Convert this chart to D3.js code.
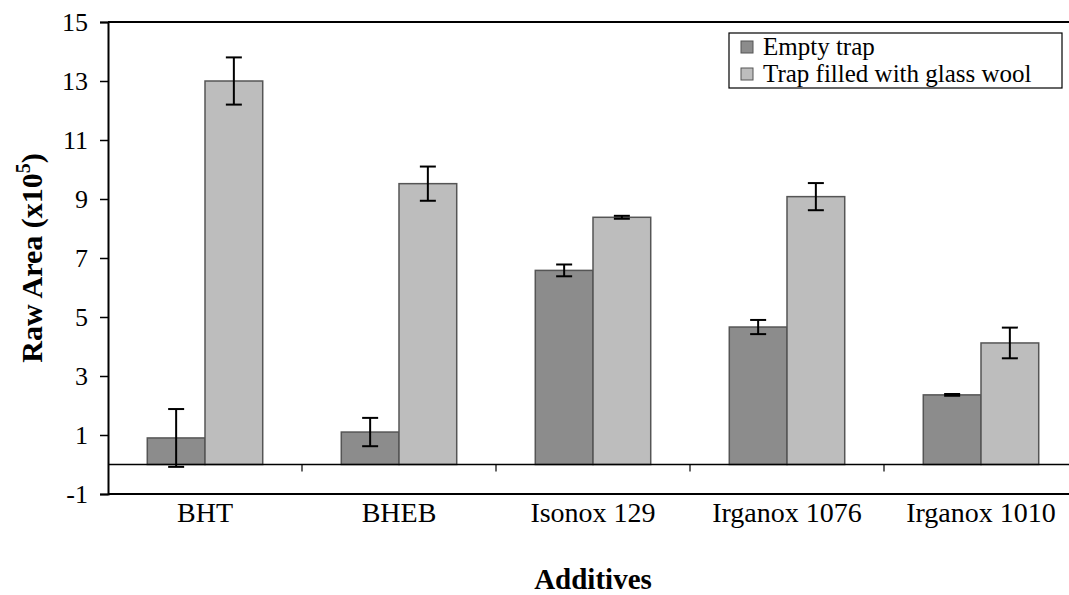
<!DOCTYPE html>
<html>
<head>
<meta charset="utf-8">
<script src="https://cdn.jsdelivr.net/npm/d3@7"></script>
<style>
  body { margin: 0; background: #fff; }
</style>
</head>
<body>
<svg id="chart"></svg>
<script>
  // data
  const categories = ['BHT', 'BHEB', 'Isonox 129', 'Irganox 1076', 'Irganox 1010'];
  const seriesNames = ['Empty trap', 'Trap filled with glass wool'];
  const emptyTrap = [0.9, 1.1, 6.58, 4.66, 2.36];
  const emptyErr = [0.98, 0.48, 0.2, 0.24, 0.03];
  const glassWool = [13.0, 9.52, 8.38, 9.08, 4.12];
  const glassErr = [0.8, 0.58, 0.05, 0.46, 0.52];
  const yTicks = [-1, 1, 3, 5, 7, 9, 11, 13, 15];

  const WIDTH = 1069;
  const HEIGHT = 595;
  const FONT = '"Liberation Serif", "Times New Roman", Times, serif';
  const margin = { top: 22, left: 108, bottom: 101 };
  const plotRight = 1078; // plot runs past the window edge in the original

  const svg = d3.select('#chart').attr('width', WIDTH).attr('height', HEIGHT)
    .attr('font-family', FONT);

  const x0 = d3.scaleBand().domain(categories).range([margin.left, plotRight]).paddingInner(0.405).paddingOuter(0.2025);
  const x1 = d3.scaleBand().domain(seriesNames).range([0, x0.bandwidth()]);
  const y = d3.scaleLinear().domain([-1, 15]).range([HEIGHT - margin.bottom, margin.top]);

  const fills = ['#8c8c8c', '#bdbdbd'];
  const color = d3.scaleOrdinal().domain(seriesNames).range(fills);

  // frame top + bottom
  svg.append('line').attr('x1', margin.left).attr('x2', WIDTH).attr('y1', y(15)).attr('y2', y(15))
    .attr('stroke', '#000').attr('stroke-width', 2);
  svg.append('line').attr('x1', margin.left).attr('x2', WIDTH).attr('y1', y(-1)).attr('y2', y(-1))
    .attr('stroke', '#000').attr('stroke-width', 2);

  // y axis
  const yAxis = svg.append('g').attr('transform', `translate(${margin.left},0)`)
    .call(d3.axisLeft(y).tickValues(yTicks).tickFormat((d) => String(d)).tickSize(8).tickPadding(12));
  yAxis.attr('font-family', FONT);
  yAxis.select('.domain').attr('stroke-width', 2);
  yAxis.selectAll('.tick line').attr('stroke-width', 1.5);
  yAxis.selectAll('text').attr('font-size', 26).attr('fill', '#000');

  // bars
  const rows = categories.map((c, i) => ({
    cat: c,
    vals: [
      { name: seriesNames[0], v: emptyTrap[i], e: emptyErr[i] },
      { name: seriesNames[1], v: glassWool[i], e: glassErr[i] }
    ]
  }));

  const groups = svg.append('g').selectAll('g').data(rows).join('g')
    .attr('transform', (d) => `translate(${x0(d.cat)},0)`);

  groups.selectAll('rect').data((d) => d.vals).join('rect')
    .attr('x', (d) => x1(d.name))
    .attr('y', (d) => y(Math.max(0, d.v)))
    .attr('width', x1.bandwidth())
    .attr('height', (d) => Math.abs(y(d.v) - y(0)))
    .attr('fill', (d) => color(d.name))
    .attr('stroke', '#555')
    .attr('stroke-width', 1.5);

  // error bars
  const capW = 8;
  const err = groups.selectAll('g.err').data((d) => d.vals).join('g').attr('class', 'err')
    .attr('stroke', '#000').attr('stroke-width', 2);
  err.append('line')
    .attr('x1', (d) => x1(d.name) + x1.bandwidth() / 2)
    .attr('x2', (d) => x1(d.name) + x1.bandwidth() / 2)
    .attr('y1', (d) => y(d.v + d.e))
    .attr('y2', (d) => y(d.v - d.e));
  err.append('line')
    .attr('x1', (d) => x1(d.name) + x1.bandwidth() / 2 - capW)
    .attr('x2', (d) => x1(d.name) + x1.bandwidth() / 2 + capW)
    .attr('y1', (d) => y(d.v + d.e))
    .attr('y2', (d) => y(d.v + d.e));
  err.append('line')
    .attr('x1', (d) => x1(d.name) + x1.bandwidth() / 2 - capW)
    .attr('x2', (d) => x1(d.name) + x1.bandwidth() / 2 + capW)
    .attr('y1', (d) => y(d.v - d.e))
    .attr('y2', (d) => y(d.v - d.e));

  // zero line with category ticks
  svg.append('line').attr('x1', margin.left).attr('x2', WIDTH).attr('y1', y(0)).attr('y2', y(0))
    .attr('stroke', '#000').attr('stroke-width', 1.5);
  const step = x0.step();
  svg.append('g').selectAll('line').data(categories.slice(1)).join('line')
    .attr('x1', (d) => x0(d) - x0.paddingInner() * step / 2)
    .attr('x2', (d) => x0(d) - x0.paddingInner() * step / 2)
    .attr('y1', y(0)).attr('y2', y(0) + 7)
    .attr('stroke', '#000').attr('stroke-width', 1.2);

  // category labels
  svg.append('g').selectAll('text').data(categories).join('text')
    .attr('x', (d) => x0(d) + x0.bandwidth() / 2)
    .attr('y', y(-1) + 28)
    .attr('text-anchor', 'middle')
    .attr('font-size', 28)
    .text((d) => d);

  // axis titles
  svg.append('text')
    .attr('x', (margin.left + plotRight) / 2)
    .attr('y', 589)
    .attr('text-anchor', 'middle')
    .attr('font-size', 29)
    .attr('font-weight', 'bold')
    .text('Additives');

  const yt = svg.append('text')
    .attr('transform', `translate(42,${(y(15) + y(-1)) / 2}) rotate(-90)`)
    .attr('text-anchor', 'middle')
    .attr('font-size', 30)
    .attr('font-weight', 'bold');
  yt.append('tspan').text('Raw Area (x10');
  yt.append('tspan').attr('dy', -12).attr('font-size', 20).text('5');
  yt.append('tspan').attr('dy', 12).text(')');

  // legend
  const legend = svg.append('g').attr('transform', 'translate(729,33)');
  legend.append('rect').attr('width', 333).attr('height', 55)
    .attr('fill', '#fff').attr('stroke', '#000').attr('stroke-width', 1.2);
  const li = legend.selectAll('g').data(seriesNames).join('g')
    .attr('transform', (d, i) => `translate(12,${14 + i * 27})`);
  li.append('rect').attr('y', -6).attr('width', 12).attr('height', 12)
    .attr('fill', (d) => color(d)).attr('stroke', '#555').attr('stroke-width', 1);
  li.append('text').attr('x', 22).attr('y', 8)
    .attr('font-size', 25).text((d) => d);
</script>
</body>
</html>
